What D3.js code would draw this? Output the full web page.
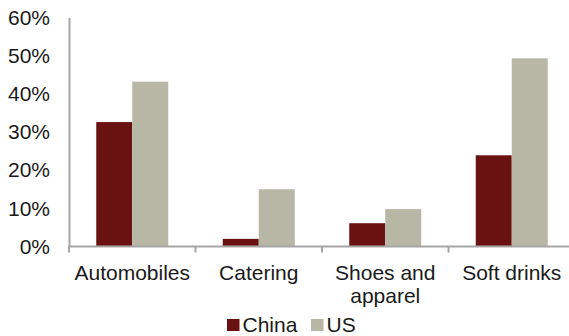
<!DOCTYPE html>
<html>
<head>
<meta charset="utf-8">
<script src="https://cdn.jsdelivr.net/npm/d3@7"></script>
<style>
  html, body { margin: 0; padding: 0; background: #fff; }
  svg { display: block; font-family: "Liberation Sans", Arial, sans-serif; }
</style>
</head>
<body>
<svg id="chart" width="569" height="336"></svg>
<script>
// Share of market, by industry
const categories = ["Automobiles", "Catering", "Shoes and apparel", "Soft drinks"];
const categoryLines = [["Automobiles"], ["Catering"], ["Shoes and", "apparel"], ["Soft drinks"]];
const seriesNames = ["China", "US"];
const chinaValues = [0.326, 0.020, 0.061, 0.239];
const usValues = [0.432, 0.150, 0.098, 0.493];
const yTicks = [0, 0.1, 0.2, 0.3, 0.4, 0.5, 0.6];
const colors = ["#691211", "#B8B7A6"];

(function draw() {
  const svg = d3.select("#chart");
  const fontSize = 21;
  const axisColor = "#A6A6A6";
  const textColor = "#1a1a1a";

  const plotLeft = 69, plotRight = 575, plotTop = 17.5, plotBottom = 246.5;

  const x = d3.scaleBand().domain(categories).range([plotLeft, plotRight]).paddingInner(0).paddingOuter(0);
  const x1 = d3.scaleBand().domain(seriesNames).range([0, x.bandwidth()]).paddingInner(0).paddingOuter(0.757);
  const y = d3.scaleLinear().domain([0, 0.6]).range([plotBottom, plotTop]);
  const color = d3.scaleOrdinal().domain(seriesNames).range(colors);

  const rows = categories.map((c, i) => ({ category: c, values: [
    { key: "China", value: chinaValues[i] },
    { key: "US", value: usValues[i] }
  ]}));

  // bars
  const groups = svg.append("g").selectAll("g").data(rows).join("g")
    .attr("transform", d => `translate(${x(d.category)},0)`);
  groups.selectAll("rect").data(d => d.values).join("rect")
    .attr("x", d => x1(d.key))
    .attr("width", x1.bandwidth())
    .attr("y", d => y(d.value))
    .attr("height", d => y(0) - y(d.value))
    .attr("fill", d => color(d.key));

  // y axis: line and percentage labels, no tick marks
  const yAxis = svg.append("g").attr("transform", `translate(${plotLeft},0)`)
    .call(d3.axisLeft(y).tickValues(yTicks).tickSize(0).tickPadding(19).tickFormat(d3.format(".0%")));
  yAxis.select(".domain").attr("stroke", axisColor).attr("stroke-width", 2);
  yAxis.selectAll("text").attr("font-size", fontSize).attr("fill", textColor)
    .attr("font-family", "'Liberation Sans', Arial, sans-serif");

  // x axis: baseline and tick marks at category boundaries
  const xAxisG = svg.append("g").attr("transform", `translate(0,${plotBottom})`);
  xAxisG.append("line")
    .attr("x1", plotLeft - 1).attr("x2", plotRight)
    .attr("stroke", axisColor).attr("stroke-width", 2);
  const bounds = categories.map(c => x(c)).concat([x.range()[1]]);
  xAxisG.selectAll("line.tick").data(bounds).join("line")
    .attr("class", "tick")
    .attr("x1", d => d).attr("x2", d => d)
    .attr("y1", 0).attr("y2", 6)
    .attr("stroke", axisColor).attr("stroke-width", 2);

  // category labels (wrapped)
  const labels = svg.append("g").selectAll("text").data(categories).join("text")
    .attr("x", d => x(d) + x.bandwidth() / 2)
    .attr("y", 280)
    .attr("text-anchor", "middle")
    .attr("font-size", fontSize)
    .attr("fill", textColor);
  labels.each(function(d, i) {
    const t = d3.select(this);
    categoryLines[i].forEach((line, j) => {
      t.append("tspan")
        .attr("x", x(d) + x.bandwidth() / 2)
        .attr("dy", j === 0 ? 0 : 23)
        .text(line);
    });
  });

  // legend
  const legend = svg.append("g").attr("transform", "translate(227,319)");
  const legendX = [0, 84];
  seriesNames.forEach((name, i) => {
    const g = legend.append("g").attr("transform", `translate(${legendX[i]},0)`);
    g.append("rect").attr("width", 12.5).attr("height", 12).attr("fill", color(name));
    g.append("text").attr("x", 15.5).attr("y", 13)
      .attr("font-size", fontSize).attr("fill", textColor).text(name);
  });
})();
</script>
</body>
</html>
